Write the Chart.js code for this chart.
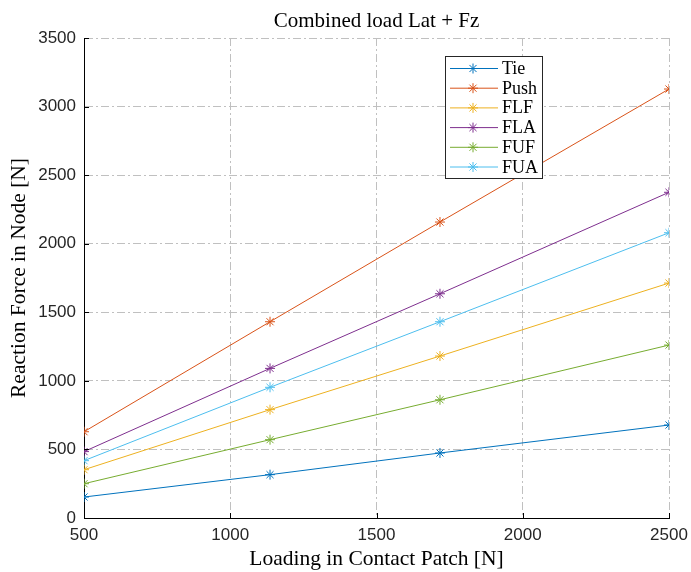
<!DOCTYPE html>
<html>
<head>
<meta charset="utf-8">
<script src="https://cdn.jsdelivr.net/npm/chart.js@4.4.0/dist/chart.umd.min.js"></script>
<style>
html,body{margin:0;padding:0;background:#fff;}
#wrap{width:691px;height:572px;}
</style>
</head>
<body>
<div id="wrap"><canvas id="c" width="691" height="572"></canvas></div>
<script>
const loading = [500, 1136, 1717, 2500];
const seriesNames = ['Tie', 'Push', 'FLF', 'FLA', 'FUF', 'FUA'];
const tie  = [153, 316, 474, 678];
const push = [629, 1431, 2158, 3128];
const flf  = [352, 790, 1181, 1713];
const fla  = [484, 1091, 1635, 2375];
const fuf  = [250, 571, 862, 1261];
const fua  = [418, 953, 1431, 2080];
const xTicks = [500, 1000, 1500, 2000, 2500];
const yTicks = [0, 500, 1000, 1500, 2000, 2500, 3000, 3500];
const titleText = 'Combined load Lat + Fz';
const xLabel = 'Loading in Contact Patch [N]';
const yLabel = 'Reaction Force in Node [N]';

const colors = ['#0072BD', '#D95319', '#EDB120', '#7E2F8E', '#77AC30', '#4DBEEE'];
const allSeries = [tie, push, flf, fla, fuf, fua];

const serif = '"Liberation Serif", "DejaVu Serif", serif';
const sans = '"Liberation Sans", Arial, sans-serif';

const datasets = allSeries.map((vals, i) => ({
  label: seriesNames[i],
  data: vals.map((v, j) => ({x: loading[j], y: v})),
  borderColor: colors[i],
  backgroundColor: colors[i],
  borderWidth: 1,
  pointStyle: 'star',
  pointRadius: 5,
  pointBorderWidth: 1,
  pointHoverRadius: 5,
  fill: false,
  tension: 0
}));

const overlay = {
  id: 'overlay',
  afterDraw(chart) {
    const ctx = chart.ctx;
    const ca = chart.chartArea;
    const xs = chart.scales.x, ys = chart.scales.y;
    ctx.save();
    ctx.strokeStyle = '#000';
    ctx.lineWidth = 1;
    ctx.beginPath();
    xTicks.forEach(t => {
      const px = Math.round(xs.getPixelForValue(t)) + 0.5;
      ctx.moveTo(px, ca.bottom);
      ctx.lineTo(px, ca.bottom - 5);
    });
    yTicks.forEach(t => {
      const py = Math.round(ys.getPixelForValue(t)) + 0.5;
      ctx.moveTo(ca.left, py);
      ctx.lineTo(ca.left + 5, py);
    });
    ctx.stroke();
    ctx.fillStyle = '#000';
    ctx.font = '21px ' + serif;
    ctx.textAlign = 'center';
    ctx.textBaseline = 'alphabetic';
    ctx.fillText(titleText, (ca.left + ca.right) / 2, 27);
    const lx = 445, ly = 56.5, lw = 97, lh = 122;
    ctx.fillStyle = '#fff';
    ctx.fillRect(lx, ly, lw, lh);
    ctx.strokeStyle = '#262626';
    ctx.lineWidth = 1;
    ctx.strokeRect(lx + 0.5, ly, lw, lh);
    ctx.font = '18px ' + serif;
    ctx.textAlign = 'left';
    chart.data.datasets.forEach((ds, i) => {
      const y = 68.5 + i * 19.7;
      ctx.strokeStyle = ds.borderColor;
      ctx.lineWidth = 1;
      ctx.beginPath();
      ctx.moveTo(450, y);
      ctx.lineTo(498, y);
      ctx.stroke();
      const cx = 473, r = 5;
      ctx.beginPath();
      ctx.moveTo(cx - r, y); ctx.lineTo(cx + r, y);
      ctx.moveTo(cx, y - r); ctx.lineTo(cx, y + r);
      const d = r * Math.SQRT1_2;
      ctx.moveTo(cx - d, y - d); ctx.lineTo(cx + d, y + d);
      ctx.moveTo(cx - d, y + d); ctx.lineTo(cx + d, y - d);
      ctx.stroke();
      ctx.fillStyle = '#000';
      ctx.fillText(ds.label, 502, y + 5.5);
    });
    ctx.restore();
  }
};

const gridDash = [8, 3, 2, 3];

new Chart(document.getElementById('c'), {
  type: 'line',
  data: {datasets},
  options: {
    responsive: false,
    animation: false,
    events: [],
    layout: {padding: {left: 0, right: 22, top: 38, bottom: 0}},
    plugins: {
      legend: {display: false},
      title: {display: false},
      tooltip: {enabled: false}
    },
    scales: {
      x: {
        type: 'linear',
        min: 500, max: 2500,
        afterBuildTicks: s => { s.ticks = xTicks.map(v => ({value: v})); },
        afterFit: s => { s.height = 54; s.paddingLeft = 0; s.paddingRight = 0; },
        grid: {color: '#c0c0c0', lineWidth: 1, drawTicks: false},
        border: {display: true, color: '#000', width: 1, dash: gridDash},
        ticks: {color: '#262626', font: {family: sans, size: 17}, padding: 7, maxRotation: 0,
                callback: v => String(v)},
        title: {display: true, text: xLabel, color: '#000', font: {family: serif, size: 21.5}, padding: {top: 0, bottom: 0}}
      },
      y: {
        type: 'linear',
        min: 0, max: 3500,
        afterBuildTicks: s => { s.ticks = yTicks.map(v => ({value: v})); },
        afterFit: s => { s.width = 84; s.paddingTop = 0; s.paddingBottom = 0; },
        grid: {color: '#c0c0c0', lineWidth: 1, drawTicks: false},
        border: {display: true, color: '#000', width: 1, dash: gridDash},
        ticks: {color: '#262626', font: {family: sans, size: 17}, padding: 8,
                callback: v => String(v)},
        title: {display: true, text: yLabel, color: '#000', font: {family: serif, size: 21.5}, padding: {top: 6, bottom: 0}}
      }
    }
  },
  plugins: [overlay]
});
</script>
</body>
</html>
